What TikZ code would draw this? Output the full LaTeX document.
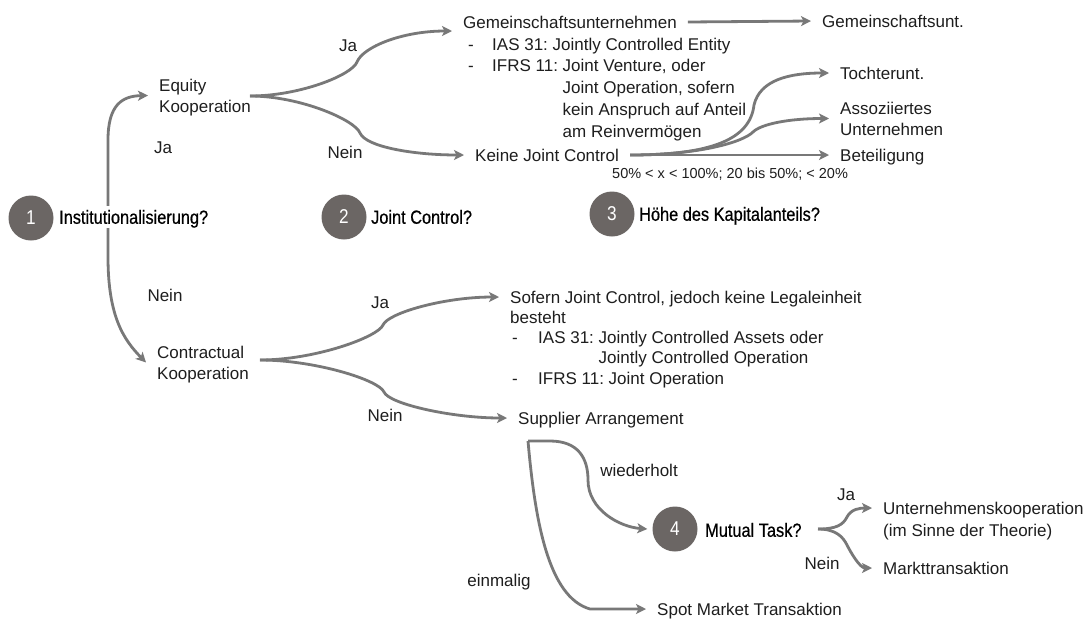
\documentclass[tikz,border=0pt]{standalone}
\usepackage{fontspec}
\setmainfont{Liberation Sans}
\newfontfamily\qfont[FakeStretch=0.86,FakeBold=0.6]{Liberation Sans}
\newfontfamily\numfont[FakeStretch=0.86]{Liberation Sans}
\usetikzlibrary{arrows.meta,calc}
\pgfdeclarelayer{background}
\pgfsetlayers{background,main}
\definecolor{linegray}{RGB}{120,120,120}
\definecolor{circgray}{RGB}{107,102,100}
\definecolor{ink}{RGB}{30,30,30}
\frenchspacing

\begin{document}
\begin{tikzpicture}[x=1pt,y=-1pt,
  txt/.style={font=\fontsize{17}{21}\selectfont, text=ink, anchor=west,
    inner xsep=11pt, inner ysep=0pt, text height=12pt, text depth=0pt},
  lbl/.style={font=\fontsize{17}{21}\selectfont, text=ink, inner sep=0pt,
    text height=12pt, text depth=0pt},
  small/.style={font=\fontsize{14.5}{17}\selectfont, text=ink, anchor=west,
    inner sep=0pt, text height=10.5pt, text depth=0pt},
  qnum/.style={circle, fill=circgray, minimum size=45pt, inner sep=0pt,
    text=white, font=\numfont\fontsize{20}{20}\selectfont},
  qtxt/.style={font=\qfont\fontsize{19}{22}\selectfont, text=black, anchor=west,
    inner xsep=2pt, inner ysep=4pt, text height=13.5pt, text depth=0pt},
  link/.style={draw=linegray, line width=2.8pt,
    -{Stealth[length=10pt,width=10pt,inset=2.5pt]}},
]
\useasboundingbox (0,0) rectangle (1086,619);

% decision questions
\node[qnum] (n1) at (31,218) {1};
\node[qtxt, fill=white] (q1) at (57,217) {Institutionalisierung?};
\node[qnum] (n2) at (344,217) {2};
\node[qtxt] (q2) at (369,217) {Joint Control?};
\node[qnum] (n3) at (612,214) {3};
\node[qtxt] (q3) at (637,214) {Höhe des Kapitalanteils?};
\node[qnum] (n4) at (675,529) {4};
\node[qtxt] (q4) at (703,530) {Mutual Task?};

% equity branch
\node[txt] (eq1) at (148,85) {Equity};
\node[txt] (eq2) at (148,106) {Kooperation};
\node[lbl] (lja) at (163,147) {Ja};
\node[txt] (gem) at (452,22) {Gemeinschaftsunternehmen};
\node[txt] (gl1) at (457,44) {\makebox[24pt][l]{-}IAS 31: Jointly Controlled Entity};
\node[txt] (gl2) at (457,65) {\makebox[24pt][l]{-}IFRS 11: Joint Venture, oder};
\node[txt] (gl3) at (457,87) {\hspace{24pt}\phantom{IFRS 11: }Joint Operation, sofern};
\node[txt] (gl4) at (457,109) {\hspace{24pt}\phantom{IFRS 11: }kein Anspruch auf Anteil};
\node[txt] (gl5) at (457,131) {\hspace{24pt}\phantom{IFRS 11: }am Reinvermögen};
\node[txt] (gemu) at (811,21) {Gemeinschaftsunt.};
\node[txt] (kjc) at (464,155) {Keine Joint Control};
\node[txt] (toch) at (829,73) {Tochterunt.};
\node[txt] (ass1) at (829,108) {Assoziiertes};
\node[txt] (ass2) at (829,129) {Unternehmen};
\node[txt] (bet) at (829,155) {Beteiligung};
\node[small] (pct) at (612,173) {50\% < x < 100\%; 20 bis 50\%; < 20\%};
\node[lbl] (uja) at (348,45) {Ja};
\node[lbl] (unein) at (345,152) {Nein};

% contractual branch
\node[lbl] (lnein) at (165,295) {Nein};
\node[txt] (ct1) at (146,352) {Contractual};
\node[txt] (ct2) at (146,373) {Kooperation};
\node[lbl] (cja) at (380,302) {Ja};
\node[lbl] (cnein) at (385,415) {Nein};
\node[txt] (sof1) at (499,297) {Sofern Joint Control, jedoch keine Legaleinheit};
\node[txt] (sof2) at (499,317) {besteht};
\node[txt] (sl1) at (501,337) {\makebox[26pt][l]{-}IAS 31: Jointly Controlled Assets oder};
\node[txt] (sl2) at (501,357) {\hspace{26pt}\phantom{IAS 31: }Jointly Controlled Operation};
\node[txt] (sl3) at (501,378) {\makebox[26pt][l]{-}IFRS 11: Joint Operation};
\node[txt] (sup) at (507,418) {Supplier Arrangement};
\node[lbl] (wied) at (639,470) {wiederholt};
\node[lbl] (einm) at (499,580) {einmalig};
\node[txt] (spot) at (646,609) {Spot Market Transaktion};
\node[lbl] (mja) at (846,494) {Ja};
\node[lbl] (mnein) at (822,563) {Nein};
\node[txt] (uk1) at (872,508) {Unternehmenskooperation};
\node[txt] (uk2) at (872,530) {(im Sinne der Theorie)};
\node[txt] (markt) at (872,568) {Markttransaktion};

% branching points
\coordinate (split) at (108,217);
\coordinate (fe) at (250,96);
\coordinate (fc) at (260,360);
\coordinate (fs) at (528,441);
\coordinate (fm) at (818,529);

\begin{pgfonlayer}{background}
\fill[white] (0,0) rectangle (1086,619);

% Institutionalisierung: ja / nein
\draw[link] (split) -- (108,140) .. controls (108,105) and (122,96) .. ($(eq1.west)!.5!(eq2.west)$);
\draw[link] (split) -- (108,257) .. controls (108,317) and (124,340) .. ($(ct1.west)!.5!(ct2.west)$);

% joint control for equity cooperation
\draw[link] (fe) .. controls +(50,0) and +(-5,13) .. (357,62)
  .. controls +(6,-15) and +(-50,0) .. ([yshift=-9pt]gem.west);
\draw[link] (fe) .. controls +(50,0) and +(-5,-13) .. (360,133)
  .. controls +(6,14) and +(-50,0) .. (kjc.west);
\draw[link] (gem.east) -- (gemu.west);

% share of capital
\draw[link] (kjc.east) -- (bet.west);
\draw[link] (kjc.east) .. controls +(70,0) and +(-10,10) .. (753,132)
  .. controls +(8,-8) and +(-40,0) .. ($(ass1.west)!.5!(ass2.west)$);
\draw[link] (kjc.east) .. controls +(80,0) and +(-4,35) .. (754,105)
  .. controls +(6,-25) and +(-40,0) .. (toch.west);

% joint control for contractual cooperation
\draw[link] (fc) .. controls +(55,0) and +(-5,12) .. (383,325)
  .. controls +(5,-12) and +(-55,0) .. (sof1.west);
\draw[link] (fc) .. controls +(55,0) and +(-5,-12) .. (384,392)
  .. controls +(5,12) and +(-55,0) .. (sup.west);

% supplier arrangement: repeated / one-off
\draw[link] (fs) -- (550,441) .. controls (578,441) and (588,458) .. (588,480)
  .. controls (588,510) and (620,527) .. ([xshift=-5pt]n4.west);
\draw[link] (fs) .. controls (535,520) and (548,597) .. (590,609) -- (spot.west);

% mutual task
\draw[link] (fm) .. controls +(18,0) and +(-4,8) .. (847,517)
  .. controls +(4,-8) and +(-12,0) .. (uk1.west);
\draw[link] (fm) .. controls +(18,0) and +(-4,-8) .. (847,545)
  .. controls +(4,8) and +(-12,0) .. (markt.west);
\end{pgfonlayer}
\end{tikzpicture}
\end{document}
